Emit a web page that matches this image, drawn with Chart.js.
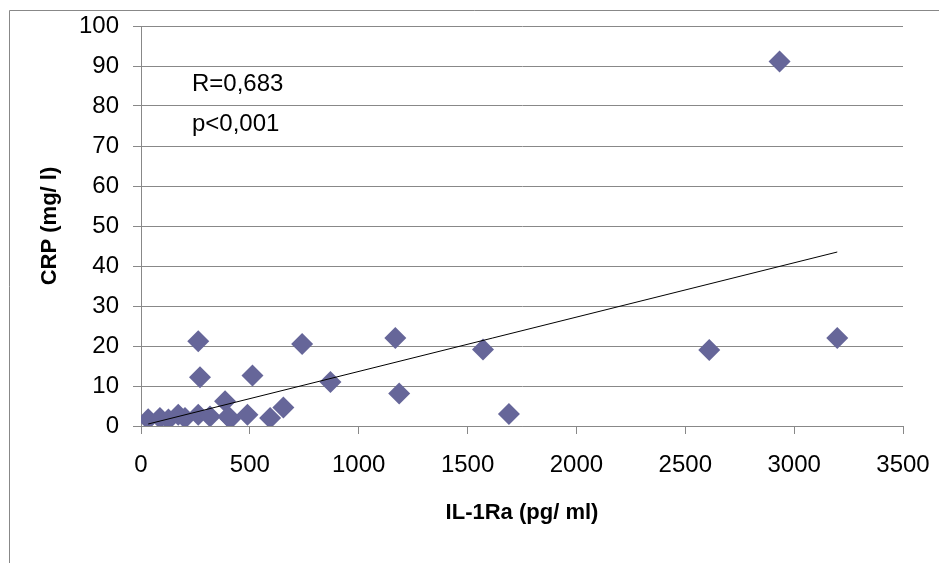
<!DOCTYPE html>
<html>
<head>
<meta charset="utf-8">
<script src="https://cdn.jsdelivr.net/npm/chart.js@4/dist/chart.umd.min.js"></script>
<style>
  html, body { margin: 0; padding: 0; background: #ffffff; }
  #wrap { width: 939px; height: 563px; position: relative; }
</style>
</head>
<body>
<div id="wrap"><canvas id="c" width="939" height="563"></canvas></div>
<script>
// IL-1Ra (pg/ml) values
const il1ra = [33, 87, 126, 171, 202, 263, 271, 263, 317, 386, 401, 410, 489, 512, 593, 654, 740, 870, 1168, 1186, 1571, 1690, 2610, 2933, 3198];
// CRP (mg/l) values
const crp = [1.7, 2.0, 1.6, 2.8, 2.0, 2.8, 12.2, 21.2, 2.4, 6.2, 2.4, 1.8, 2.8, 12.6, 2.0, 4.6, 20.5, 11.0, 22.0, 8.1, 19.1, 3.0, 19.0, 91.1, 22.0];
// Linear trend line end points
const trendX = [33, 3198];
const trendY = [0.5, 43.5];
// Annotation texts and anchor values
const notes = ["R=0,683", "p<0,001"];
const noteX = [234, 234];
const noteY = [85.4, 75.4];

const FONT = "'Liberation Sans', Arial, sans-serif";
const GRID = '#888888';

const points = il1ra.map((x, i) => ({ x: x, y: crp[i] }));
const trend = trendX.map((x, i) => ({ x: x, y: trendY[i] }));

const framePlugin = {
  id: 'frame',
  beforeDraw(chart) {
    const ctx = chart.ctx;
    ctx.save();
    ctx.fillStyle = '#ffffff';
    ctx.fillRect(0, 0, chart.width, chart.height);
    ctx.strokeStyle = GRID;
    ctx.lineWidth = 1;
    ctx.beginPath();
    ctx.moveTo(9.5, chart.height);
    ctx.lineTo(9.5, 10.5);
    ctx.lineTo(chart.width, 10.5);
    ctx.stroke();
    ctx.restore();
  },
  afterDraw(chart) {
    const ctx = chart.ctx;
    const xs = chart.scales.x, ys = chart.scales.y;
    ctx.save();
    ctx.fillStyle = '#000000';
    ctx.font = '24px ' + FONT;
    ctx.textAlign = 'left';
    ctx.textBaseline = 'middle';
    notes.forEach((t, i) => {
      ctx.fillText(t, xs.getPixelForValue(noteX[i]), ys.getPixelForValue(noteY[i]));
    });
    ctx.restore();
  }
};

new Chart(document.getElementById('c'), {
  type: 'scatter',
  data: {
    datasets: [
      {
        label: 'CRP',
        data: points,
        pointStyle: 'rectRot',
        pointRadius: 11,
        pointHoverRadius: 11,
        backgroundColor: '#666699',
        borderColor: '#666699',
        borderWidth: 0,
        order: 2
      },
      {
        label: 'Trend',
        type: 'line',
        data: trend,
        borderColor: '#000000',
        borderWidth: 1,
        pointRadius: 0,
        fill: false,
        order: 1
      }
    ]
  },
  options: {
    responsive: false,
    animation: false,
    devicePixelRatio: 1,
    layout: { padding: { left: 0, top: 26, right: 36, bottom: 0 } },
    plugins: {
      legend: { display: false },
      tooltip: { enabled: false }
    },
    scales: {
      x: {
        type: 'linear',
        min: 0, max: 3500,
        ticks: { stepSize: 500, color: '#000', font: { family: FONT, size: 24 }, padding: 17, maxRotation: 0, callback: v => String(v) },
        grid: { drawOnChartArea: false, drawTicks: true, tickLength: 8, color: GRID },
        border: { display: true, color: GRID, width: 1 },
        title: { display: true, text: 'IL-1Ra (pg/ ml)', color: '#000', font: { family: FONT, size: 22, weight: 'bold' }, padding: { top: 0, bottom: 37 } },
        afterFit(s) { s.height = 137; s.paddingLeft = 0; s.paddingRight = 0; }
      },
      y: {
        type: 'linear',
        min: 0, max: 100,
        ticks: { stepSize: 10, color: '#000', font: { family: FONT, size: 24 }, padding: 14, callback: v => String(v) },
        grid: { drawOnChartArea: true, drawTicks: true, tickLength: 8, color: GRID },
        border: { display: true, color: GRID, width: 1 },
        title: { display: true, text: 'CRP (mg/ l)', color: '#000', font: { family: FONT, size: 22, weight: 'bold' }, padding: { top: 37, bottom: 0 } },
        afterFit(s) { s.width = 141; s.paddingTop = 0; s.paddingBottom = 0; }
      }
    }
  },
  plugins: [framePlugin]
});
</script>
</body>
</html>
